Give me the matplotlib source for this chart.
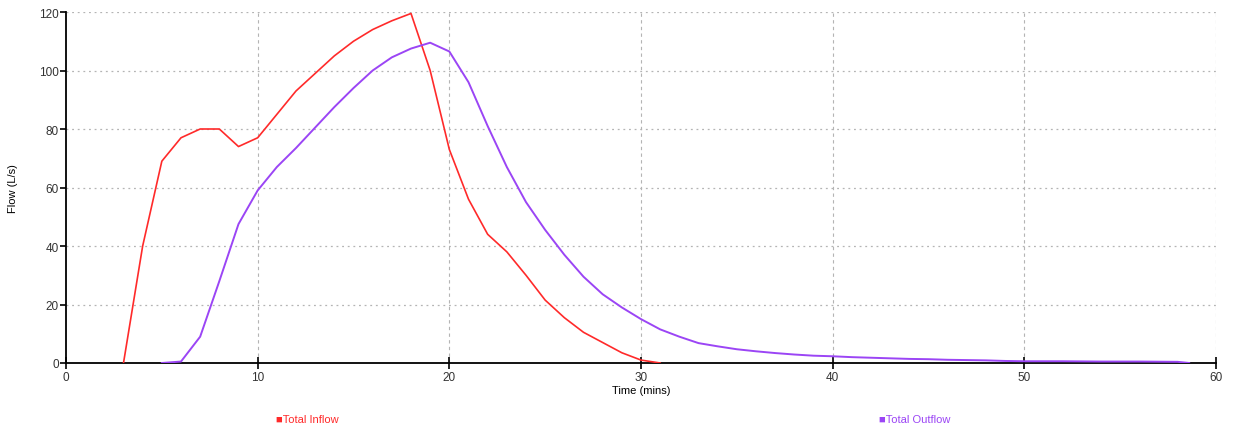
import matplotlib
matplotlib.use('Agg')
import matplotlib.pyplot as plt

# 数据
inflow_t = [3, 4, 5, 6, 7, 8, 9, 10, 11, 12, 13, 14, 15, 16, 17, 18,
            19, 20, 21, 22, 23, 24, 25, 26, 27, 28, 29, 30, 31]
inflow_q = [0, 40, 69, 77, 80, 80, 74, 77, 85, 93, 99, 105, 110, 114, 117, 119.5,
            100, 73, 56, 44, 38, 30, 21.5, 15.5, 10.5, 7, 3.5, 1, 0]

outflow_t = [5, 6, 7, 8, 9, 10, 11, 12, 13, 14, 15, 16, 17, 18, 19, 20,
             21, 22, 23, 24, 25, 26, 27, 28, 29, 30, 31, 32, 33, 34, 35,
             36, 37, 38, 39, 40, 41, 42, 43, 44, 45, 46, 47, 48, 49, 50,
             52, 54, 56, 58, 58.6]
outflow_q = [0, 0.5, 9, 28, 47.5, 59, 67, 73.5, 80.5, 87.5, 94, 100, 104.5, 107.5, 109.5, 106.5,
             96, 81, 67, 55, 45.5, 37, 29.5, 23.5, 19, 15, 11.5, 9, 6.8, 5.7, 4.7,
             4.0, 3.4, 2.9, 2.5, 2.3, 2.0, 1.8, 1.6, 1.4, 1.3, 1.1, 1.0, 0.9, 0.7, 0.6,
             0.6, 0.5, 0.5, 0.4, 0]

x_ticks = [0, 10, 20, 30, 40, 50, 60]
y_ticks = [0, 20, 40, 60, 80, 100, 120]

plt.rcParams['font.family'] = ['Liberation Sans', 'DejaVu Sans']

fig = plt.figure(figsize=(12.33, 4.35), dpi=100)
ax = fig.add_axes([66 / 1233, 1 - 364 / 435, (1216 - 66) / 1233, (364 - 13) / 435])

ax.plot(inflow_t, inflow_q, color='#ff2a2a', lw=1.2, zorder=3)
ax.plot(outflow_t, outflow_q, color='#9b45f5', lw=1.4, zorder=3)

ax.set_xlim(0, 60)
ax.set_ylim(0, 120)
ax.set_xticks(x_ticks)
ax.set_yticks(y_ticks)

# 网格: 横向点线, 纵向虚线
for y in y_ticks[1:]:
    ax.axhline(y, color='#b4b4b4', lw=0.9, ls=(0, (1.5, 3)), zorder=1)
for x in x_ticks[1:]:
    ax.axvline(x, color='#b4b4b4', lw=0.8, ls=(0, (3, 3)), zorder=1)

ax.spines['top'].set_visible(False)
ax.spines['right'].set_visible(False)
ax.spines['left'].set_linewidth(1.3)
ax.spines['bottom'].set_linewidth(1.3)
ax.tick_params(axis='x', direction='inout', length=8, width=1.2, labelsize=8.5, colors='black', pad=2)
ax.tick_params(axis='y', direction='out', length=4, width=1.2, labelsize=8.5, colors='black', pad=1)
for lab in ax.get_xticklabels() + ax.get_yticklabels():
    lab.set_color('#333333')

ax.set_xlabel('Time (mins)', fontsize=8, labelpad=1)
ax.set_ylabel('Flow (L/s)', fontsize=8)
ax.yaxis.set_label_coords(-0.042, 0.5)

# 图例
fig.text(276 / 1233, 1 - 420 / 435, '\u25a0Total Inflow', color='#ff2a2a', fontsize=8,
         va='center', ha='left')
fig.text(879 / 1233, 1 - 420 / 435, '\u25a0Total Outflow', color='#9b45f5', fontsize=8,
         va='center', ha='left')

plt.savefig('out.png', dpi=100)
plt.close()
